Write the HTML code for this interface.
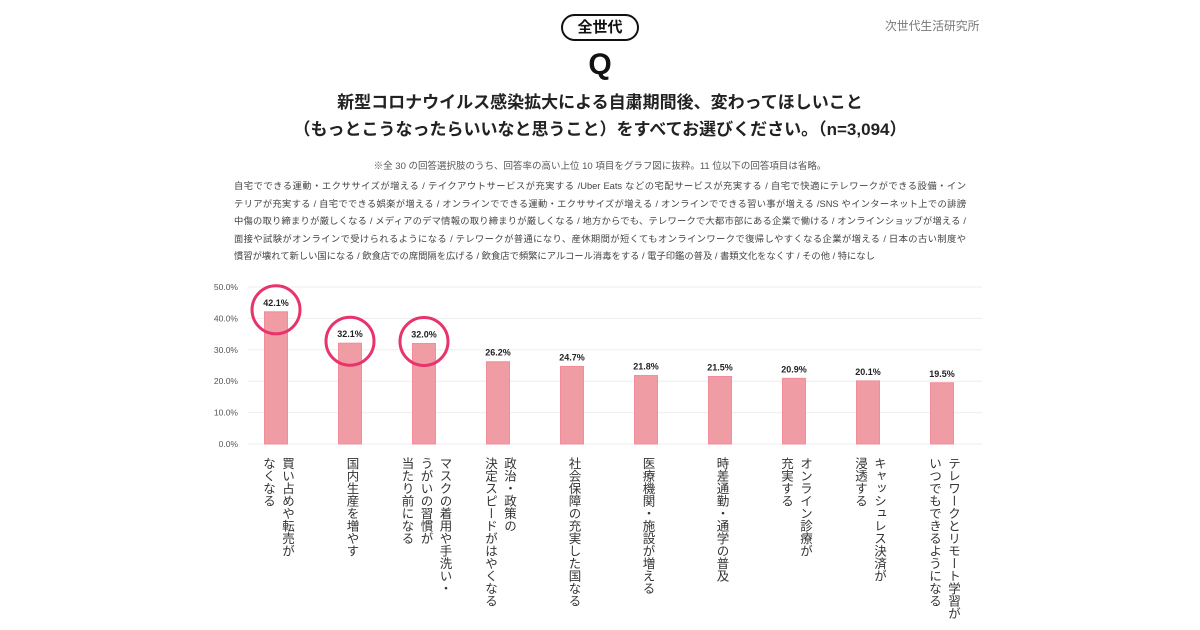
<!DOCTYPE html>
<html><head><meta charset="utf-8"><style>
body{margin:0;width:1200px;height:630px;background:#fff;position:relative;overflow:hidden;font-family:"Liberation Sans","Noto Sans CJK JP",sans-serif;}
.abs{position:absolute;}
.pill{left:561px;top:14px;width:74px;height:23px;border:2.5px solid #111;border-radius:14px;text-align:center;font-weight:bold;font-size:15px;line-height:23px;color:#111;}
.logo{left:885px;top:17px;font-size:11.8px;color:#777;}
.q{left:0;width:1200px;top:48px;text-align:center;font-weight:bold;font-size:30px;color:#111;}
.title{left:0;width:1200px;text-align:center;font-weight:bold;font-size:17px;color:#222;}
.note{left:0;width:1200px;text-align:center;font-size:9.5px;color:#555;}
.para{left:234px;width:732px;font-size:9.3px;color:#444;text-align:justify;text-align-last:justify;white-space:nowrap;}
.lbl{writing-mode:vertical-rl;font-size:12.5px;line-height:19px;color:#333;white-space:nowrap;}
</style></head><body>
<div class="abs pill">全世代</div>
<div class="abs logo">次世代生活研究所</div>
<div class="abs q">Q</div>
<div class="abs title" style="top:88px">新型コロナウイルス感染拡大による自粛期間後、変わってほしいこと</div>
<div class="abs title" style="top:115px">（もっとこうなったらいいなと思うこと）をすべてお選びください。（n=3,094）</div>
<div class="abs note" style="top:158px">※全 30 の回答選択肢のうち、回答率の高い上位 10 項目をグラフ図に抜粋。11 位以下の回答項目は省略。</div>
<div>
<div class="abs para" style="top:178px">自宅でできる運動・エクササイズが増える / テイクアウトサービスが充実する /Uber Eats などの宅配サービスが充実する / 自宅で快適にテレワークができる設備・イン</div>
<div class="abs para" style="top:196px">テリアが充実する / 自宅でできる娯楽が増える / オンラインでできる運動・エクササイズが増える / オンラインでできる習い事が増える /SNS やインターネット上での誹謗</div>
<div class="abs para" style="top:213px">中傷の取り締まりが厳しくなる / メディアのデマ情報の取り締まりが厳しくなる / 地方からでも、テレワークで大都市部にある企業で働ける / オンラインショップが増える /</div>
<div class="abs para" style="top:231px">面接や試験がオンラインで受けられるようになる / テレワークが普通になり、産休期間が短くてもオンラインワークで復帰しやすくなる企業が増える / 日本の古い制度や</div>
<div class="abs para" style="top:248px;text-align-last:left">慣習が壊れて新しい国になる / 飲食店での席間隔を広げる / 飲食店で頻繁にアルコール消毒をする / 電子印鑑の普及 / 書類文化をなくす / その他 / 特になし</div>
</div>
<svg class="abs" style="left:0;top:0" width="1200" height="630" id="chart"></svg>
<div id="labels"></div>
<script>
const categories=[["買い占めや転売が","なくなる"],["国内生産を増やす"],["マスクの着用や手洗い・","うがいの習慣が","当たり前になる"],["政治・政策の","決定スピードがはやくなる"],["社会保障の充実した国なる"],["医療機関・施設が増える"],["時差通勤・通学の普及"],["オンライン診療が","充実する"],["キャッシュレス決済が","浸透する"],["テレワークとリモート学習が","いつでもできるようになる"]];
const values=[42.1,32.1,32.0,26.2,24.7,21.8,21.5,20.9,20.1,19.5];
const highlighted=[0,1,2];
const yTicks=[0,10,20,30,40,50];
const NS="http://www.w3.org/2000/svg";
const svg=document.getElementById('chart');
const x0=250,step=74,y0=444,yTop=287,bw=23;
const yScale=v=>y0-(v/50)*(y0-yTop);
const xScale=i=>x0+26+i*step;
function mk(t,a){const e=document.createElementNS(NS,t);for(const k in a)e.setAttribute(k,a[k]);svg.appendChild(e);return e;}
yTicks.forEach(t=>{
  const g=mk('line',{x1:248,x2:982,y1:yScale(t),y2:yScale(t),stroke:'#eeeeee','stroke-width':1});
  
  
  const tx=mk('text',{x:238,y:yScale(t)+3,'text-anchor':'end','font-size':8.5,fill:'#555'});
  tx.textContent=t.toFixed(1)+'%';
  
  
});
const lab=document.getElementById('labels');
values.forEach((v,i)=>{
  const cx=xScale(i),top=yScale(v);
  const r=mk('rect',{x:cx-bw/2,y:top,width:bw,height:y0-top,fill:'#f09ca5',stroke:'#f28c98','stroke-width':1});
  
  
  const t=mk('text',{x:cx,y:top-6,'text-anchor':'middle','font-size':9,'font-weight':'bold',fill:'#222'});
  t.textContent=v.toFixed(1)+'%';
  
  
  if(highlighted.includes(i)){
    const c=mk('circle',{cx:cx,cy:top-2,r:24,fill:'none',stroke:'#e8336b','stroke-width':3});
    
    
  }
  const lines=categories[i];
  const w=lines.length*19;
  const d=document.createElement('div');
  d.className='abs lbl';
  d.style.left=(cx-w/2+1)+'px';
  d.style.top='457px';
  d.innerHTML=lines.join('<br>');
  
  
  lab.appendChild(d);
});
</script>
</body></html>
